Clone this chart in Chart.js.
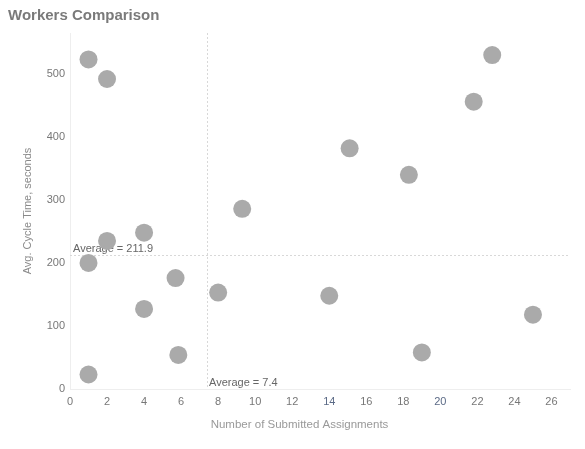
<!DOCTYPE html>
<html>
<head>
<meta charset="utf-8">
<script src="https://cdn.jsdelivr.net/npm/chart.js@4"></script>
<style>
  html, body { margin: 0; padding: 0; background: #ffffff; }
  #wrap { width: 585px; height: 449px; position: relative; }
</style>
</head>
<body>
<div id="wrap"><canvas id="c"></canvas></div>
<script>
const chartTitle = "Workers Comparison";
const xTitle = "Number of Submitted Assignments";
const yTitle = "Avg. Cycle Time, seconds";

const submitted = [1, 2, 22.8, 21.8, 15.1, 18.3, 9.3, 4, 2, 1, 5.7, 8, 14, 4, 25, 5.85, 19, 1];
const cycleTime = [523, 492, 530, 456, 382, 340, 286, 248, 235, 200, 176, 153, 148, 127, 118, 54, 58, 23];

const avgSubmitted = 7.4;
const avgCycleTime = 211.9;

const xTicks = [0, 2, 4, 6, 8, 10, 12, 14, 16, 18, 20, 22, 24, 26];
const yTicks = [0, 100, 200, 300, 400, 500];
const xMax = 27;
const yMax = 565;

const points = submitted.map((x, i) => ({ x: x, y: cycleTime[i] }));

const FONT = "Arial, 'Liberation Sans', sans-serif";

const avgPlugin = {
  id: 'avgLines',
  beforeDatasetsDraw(chart) {
    const { ctx, chartArea, scales } = chart;
    const xs = scales.x, ys = scales.y;
    const px = xs.getPixelForValue(avgSubmitted);
    const py = ys.getPixelForValue(avgCycleTime);
    ctx.save();
    ctx.strokeStyle = '#d8d8d8';
    ctx.lineWidth = 1;
    ctx.setLineDash([2, 2]);
    ctx.beginPath();
    ctx.moveTo(Math.round(px) + 0.5, chartArea.top);
    ctx.lineTo(Math.round(px) + 0.5, chartArea.bottom);
    ctx.moveTo(chartArea.left, Math.round(py) + 0.5);
    ctx.lineTo(chartArea.right, Math.round(py) + 0.5);
    ctx.stroke();
    ctx.setLineDash([]);
    ctx.fillStyle = '#666666';
    ctx.font = '11px ' + FONT;
    ctx.textAlign = 'left';
    ctx.textBaseline = 'bottom';
    ctx.fillText('Average = ' + avgCycleTime.toFixed(1), chartArea.left + 3, py - 1);
    ctx.fillText('Average = ' + avgSubmitted.toFixed(1), px + 2, chartArea.bottom - 1);
    ctx.restore();
  },
  afterDraw(chart) {
    const { ctx, scales } = chart;
    const xs = scales.x;
    ctx.save();
    ctx.fillStyle = '#999999';
    ctx.font = '11.5px ' + FONT;
    ctx.textAlign = 'center';
    ctx.textBaseline = 'middle';
    ctx.fillText(xTitle, chart.width / 2 + 7, xs.bottom - 11);
    ctx.restore();
  }
};

new Chart(document.getElementById('c'), {
  type: 'scatter',
  data: {
    datasets: [{
      data: points,
      backgroundColor: '#aaaaaa',
      borderColor: '#aaaaaa',
      borderWidth: 0,
      pointRadius: 9,
      pointHoverRadius: 9
    }]
  },
  options: {
    responsive: true,
    maintainAspectRatio: false,
    animation: false,
    events: [],
    layout: { padding: { left: 8, right: 15, top: 0, bottom: 13 } },
    plugins: {
      legend: { display: false },
      tooltip: { enabled: false },
      title: {
        display: true,
        text: chartTitle,
        align: 'start',
        color: '#7a7a7a',
        font: { family: FONT, size: 15, weight: 'bold' },
        padding: { top: 7, bottom: 8 }
      }
    },
    scales: {
      x: {
        type: 'linear',
        min: 0,
        max: xMax,
        afterBuildTicks: (s) => { s.ticks = xTicks.map(v => ({ value: v })); },
        afterFit: (s) => { s.height = 47; },
        grid: { display: false, drawTicks: false },
        border: { display: true, color: '#eeeeee' },
        ticks: {
          padding: 6,
          color: (c) => (c.tick && (c.tick.value === 14 || c.tick.value === 20)) ? '#5b6a86' : '#777777',
          font: { family: FONT, size: 11 },
          maxRotation: 0
        },
        title: { display: false, text: xTitle }
      },
      y: {
        type: 'linear',
        min: 0,
        max: yMax,
        afterBuildTicks: (s) => { s.ticks = yTicks.map(v => ({ value: v })); },
        afterFit: (s) => { s.width = 62; },
        grid: { display: false, drawTicks: false },
        border: { display: true, color: '#eeeeee' },
        ticks: {
          padding: 5,
          color: '#777777',
          font: { family: FONT, size: 11 }
        },
        title: {
          display: true,
          text: yTitle,
          color: '#8a8a8a',
          font: { family: FONT, size: 11 },
          padding: { top: 13, bottom: 4 }
        }
      }
    }
  },
  plugins: [avgPlugin]
});
</script>
</body>
</html>
